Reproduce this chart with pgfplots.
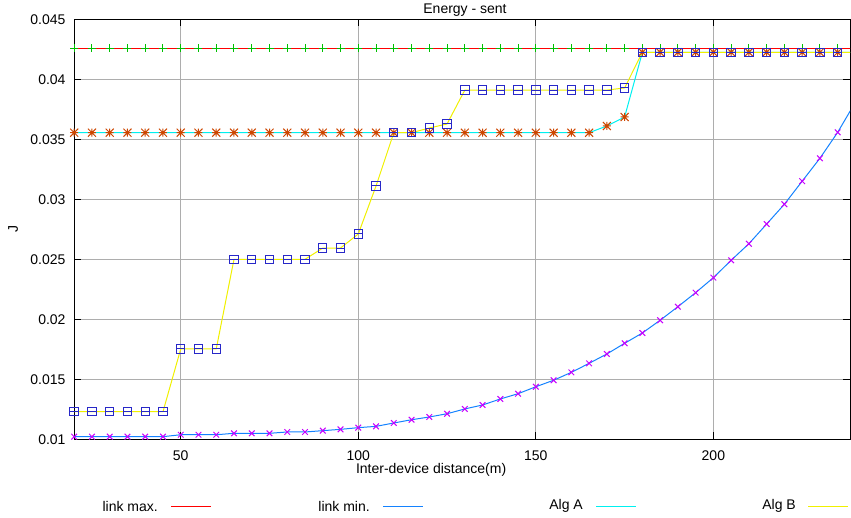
\documentclass[border=0pt]{standalone}
\usepackage{fontspec}
\setmainfont{Liberation Sans}
\usepackage{pgfplots}
\usepackage{pgfplotstable}
\pgfplotsset{compat=1.18}
\definecolor{gpred}{RGB}{255,0,0}
\definecolor{gpgreen}{RGB}{0,192,0}
\definecolor{gpblue}{RGB}{20,130,255}
\definecolor{gpmag}{RGB}{200,0,255}
\definecolor{gpcyan}{RGB}{0,240,240}
\definecolor{gpyellow}{RGB}{240,240,0}
\definecolor{gporange}{RGB}{205,70,0}
\definecolor{gpsq}{RGB}{40,40,200}
\pgfdeclareplotmark{gpstar}{%
 \pgfpathmoveto{\pgfqpoint{-\pgfplotmarksize}{0pt}}\pgfpathlineto{\pgfqpoint{\pgfplotmarksize}{0pt}}%
 \pgfpathmoveto{\pgfqpoint{0pt}{-\pgfplotmarksize}}\pgfpathlineto{\pgfqpoint{0pt}{\pgfplotmarksize}}%
 \pgfpathmoveto{\pgfqpoint{-\pgfplotmarksize}{-\pgfplotmarksize}}\pgfpathlineto{\pgfqpoint{\pgfplotmarksize}{\pgfplotmarksize}}%
 \pgfpathmoveto{\pgfqpoint{-\pgfplotmarksize}{\pgfplotmarksize}}\pgfpathlineto{\pgfqpoint{\pgfplotmarksize}{-\pgfplotmarksize}}%
 \pgfusepathqstroke}
\pgfdeclareplotmark{gpboxminus}{%
 \pgfpathrectangle{\pgfpoint{-\pgfplotmarksize}{-\pgfplotmarksize}}{\pgfpoint{2\pgfplotmarksize}{2\pgfplotmarksize}}%
 \pgfpathmoveto{\pgfqpoint{-\pgfplotmarksize}{0pt}}\pgfpathlineto{\pgfqpoint{\pgfplotmarksize}{0pt}}%
 \pgfusepathqstroke}
\pgfplotstableread{
x lmax lmin algA algB
20 0.04258 0.01022 0.03555 0.0123
25 0.04258 0.01022 0.03555 0.0123
30 0.04258 0.01022 0.03555 0.0123
35 0.04258 0.01022 0.03555 0.0123
40 0.04258 0.01022 0.03555 0.0123
45 0.04258 0.01022 0.03555 0.0123
50 0.04258 0.01038 0.03555 0.01753
55 0.04258 0.01038 0.03555 0.01753
60 0.04258 0.01038 0.03555 0.01753
65 0.04258 0.01050 0.03555 0.0250
70 0.04258 0.01050 0.03555 0.0250
75 0.04258 0.01050 0.03555 0.0250
80 0.04258 0.01061 0.03555 0.0250
85 0.04258 0.01061 0.03555 0.0250
90 0.04258 0.01072 0.03555 0.02594
95 0.04258 0.01083 0.03555 0.02594
100 0.04258 0.01097 0.03555 0.02711
105 0.04258 0.01108 0.03555 0.03111
110 0.04258 0.01136 0.03555 0.03555
115 0.04258 0.01163 0.03555 0.03555
120 0.04258 0.01186 0.03555 0.03594
125 0.04258 0.01213 0.03555 0.03628
130 0.04258 0.01253 0.03555 0.0391
135 0.04258 0.01286 0.03555 0.0391
140 0.04258 0.01336 0.03555 0.0391
145 0.04258 0.01380 0.03555 0.0391
150 0.04258 0.01438 0.03555 0.0391
155 0.04258 0.01492 0.03555 0.0391
160 0.04258 0.01558 0.03555 0.0391
165 0.04258 0.01633 0.03555 0.0391
170 0.04258 0.01711 0.03611 0.0391
175 0.04258 0.01800 0.03686 0.03928
180 0.04258 0.01886 0.04225 0.04225
185 0.04258 0.01992 0.04225 0.04225
190 0.04258 0.02105 0.04225 0.04225
195 0.04258 0.02222 0.04225 0.04225
200 0.04258 0.02347 0.04225 0.04225
205 0.04258 0.02492 0.04225 0.04225
210 0.04258 0.02630 0.04225 0.04225
215 0.04258 0.02794 0.04225 0.04225
220 0.04258 0.02959 0.04225 0.04225
225 0.04258 0.03151 0.04225 0.04225
230 0.04258 0.03342 0.04225 0.04225
235 0.04258 0.03558 0.04225 0.04225
240 0.04258 0.03810 0.04225 0.04225
}\data
\begin{document}
\begin{tikzpicture}
\path[use as bounding box] (-74.2pt,-77.7pt) rectangle (776.8pt,439.3pt);
\begin{axis}[
  at={(0pt,0pt)}, anchor=south west,
  scale only axis, width=775.9pt, height=420pt,
  font=\fontsize{14}{16.8}\selectfont,
  xmin=20, xmax=238.5, ymin=0.01, ymax=0.045,
  xtick={50,100,150,200}, xticklabels={50,100,150,200},
  ytick={0.01,0.015,0.02,0.025,0.03,0.035,0.04,0.045},
  yticklabels={0.01,0.015,0.02,0.025,0.03,0.035,0.04,0.045},
  scaled x ticks=false, scaled y ticks=false,
  tick align=inside, major tick length=7pt,
  tick style={black, line width=1pt},
  axis line style={black, line width=1pt},
  grid=major, grid style={black!32, line width=1pt},
  xticklabel style={anchor=center, inner sep=0pt, yshift=-16.5pt},
  yticklabel style={anchor=east, inner sep=0pt, xshift=-8.5pt},
  every axis title shift=0pt,
  title={Energy - sent},
  title style={at={(axis description cs:0.5037,1.0226)}, anchor=center, inner sep=0pt},
  xlabel={Inter-device distance(m)},
  xlabel style={at={(axis description cs:0.46,-0.073)}, anchor=center, inner sep=0pt},
  ylabel={J},
  ylabel style={at={(axis description cs:-0.0786,0.5)}, anchor=center, inner sep=0pt},
]
\addplot[gpred, line width=1pt, mark=none] table[x=x,y=lmax]{\data};
\addplot[gpblue, line width=1pt, mark=none] table[x=x,y=lmin]{\data};
\addplot[gpcyan, line width=1pt, mark=none] table[x=x,y=algA]{\data};
\addplot[gpyellow, line width=1pt, mark=none] table[x=x,y=algB]{\data};
\addplot[only marks, gpgreen, mark=+, mark size=4pt, line width=1pt] table[x=x,y=lmax]{\data};
\addplot[only marks, gpmag, mark=x, mark size=4pt, line width=1pt] table[x=x,y=lmin]{\data};
\addplot[only marks, gporange, mark=gpstar, mark size=4pt, line width=1pt] table[x=x,y=algA]{\data};
\addplot[only marks, gpsq, mark=gpboxminus, mark size=4.2pt, line width=1pt] table[x=x,y=algB]{\data};
\end{axis}
% legend below the axis: text followed by a line sample, as in the reference
\begin{scope}[font=\fontsize{14}{16.8}\selectfont]
\node[anchor=east, inner sep=0pt] at (83.8pt,-66.7pt) {link max.};
\draw[gpred, line width=1pt] (96.8pt,-66.7pt) -- ++(40pt,0pt);
\node[anchor=east, inner sep=0pt] at (295.8pt,-66.7pt) {link min.};
\draw[gpblue, line width=1pt] (308.8pt,-66.7pt) -- ++(40pt,0pt);
\node[anchor=east, inner sep=0pt] at (508.8pt,-66.7pt) {Alg A};
\draw[gpcyan, line width=1pt] (521.8pt,-66.7pt) -- ++(40pt,0pt);
\node[anchor=east, inner sep=0pt] at (721.8pt,-66.7pt) {Alg B};
\draw[gpyellow, line width=1pt] (733.8pt,-66.7pt) -- ++(40pt,0pt);
\end{scope}
\end{tikzpicture}
\end{document}
